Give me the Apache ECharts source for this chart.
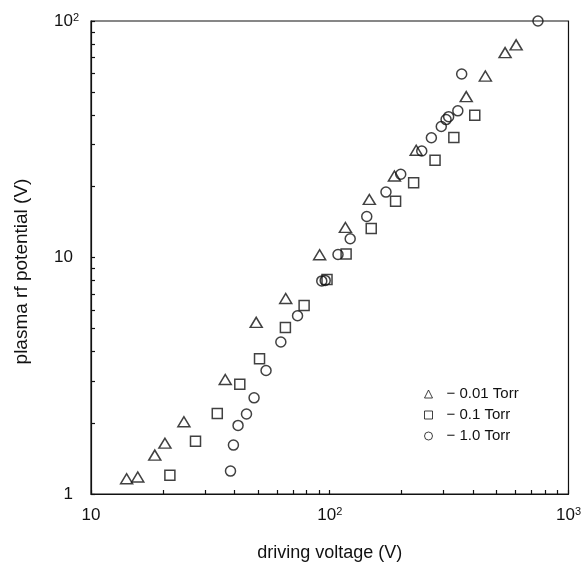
<!DOCTYPE html>
<html>
<head>
<meta charset="utf-8">
<script src="https://cdn.jsdelivr.net/npm/echarts@6/dist/echarts.min.js"></script>
<style>
  html, body { margin: 0; padding: 0; background: #fff; }
  #chart { width: 584px; height: 571px; }
</style>
</head>
<body>
<div id="chart"></div>
<script>
// [driving voltage (V), plasma rf potential (V)]
var torr001 = [
  [14.1, 1.16], [15.7, 1.18], [18.5, 1.46], [20.4, 1.64], [24.5, 2.02],
  [36.5, 3.05], [49.2, 5.32], [65.4, 6.71], [90.7, 10.27], [116.3, 13.4],
  [146.5, 17.6], [186.6, 22.1], [230.2, 28.4], [373.0, 47.9], [448.5, 58.5],
  [542.5, 73.5], [603.5, 79.3]
];
var torr01 = [
  [21.4, 1.20], [27.4, 1.67], [33.8, 2.19], [42.0, 2.91], [50.8, 3.73],
  [65.2, 5.06], [78.1, 6.26], [97.4, 8.07], [117.1, 10.34], [149.2, 13.25],
  [188.7, 17.3], [224.6, 20.7], [276.1, 25.8], [331.0, 32.2], [405.0, 39.9]
];
var torr10 = [
  [38.4, 1.25], [39.5, 1.61], [41.3, 1.95], [44.8, 2.18], [48.2, 2.55],
  [54.1, 3.33], [62.4, 4.39], [73.3, 5.67], [92.6, 7.96], [95.7, 8.0],
  [108.3, 10.3], [121.8, 12.0], [142.9, 14.9], [172.0, 18.9], [198.3, 22.5],
  [242.9, 28.2], [266.5, 32.1], [293.2, 35.8], [307.1, 38.3], [314.8, 39.4],
  [344.0, 41.7], [357.0, 59.7], [745.0, 100]
];
var seriesNames = ['\u2212 0.01 Torr', '\u2212 0.1 Torr', '\u2212 1.0 Torr'];

// tick positions (log decades with 2..9 subdivisions) and labelled values
var xTicks = [10, 20, 30, 40, 50, 60, 70, 80, 90, 100, 200, 300, 400, 500, 600, 700, 800, 900, 1000];
var xLabels = [10, 100, 1000];
var yTicks = [1, 2, 3, 4, 5, 6, 7, 8, 9, 10, 20, 30, 40, 50, 60, 70, 80, 90, 100];
var yLabels = [1, 10, 100];

var ink = '#111';
var font = '"Liberation Sans", Arial, sans-serif';

function powLabel(v, hideEmpty) {
  var e = Math.round(Math.log10(v));
  if (e >= 2) return '{n|10}{s|' + e + '}';
  var txt = e === 0 ? '1' : '10';
  // keep the same width as the superscripted labels on the y axis
  return hideEmpty ? '{n|' + txt + '}{h|2}' : '{n|' + txt + '}';
}

var labelRich = {
  n: { fontSize: 17, color: ink, fontFamily: font, lineHeight: 18 },
  s: { fontSize: 11, color: ink, fontFamily: font, lineHeight: 11, verticalAlign: 'top' },
  h: { fontSize: 11, color: 'rgba(0,0,0,0)', fontFamily: font, lineHeight: 11 }
};

var markerStyle = { color: 'rgba(0,0,0,0)', borderColor: ink, borderWidth: 1.5 };

var chart = echarts.init(document.getElementById('chart'));
chart.setOption({
  animation: false,
  backgroundColor: '#fff',
  grid: {
    left: 91, right: 13, top: 21, bottom: 77,
    show: true, borderColor: ink, borderWidth: 1.2
  },
  legend: {
    orient: 'vertical',
    left: 419, top: 381,
    itemWidth: 8, itemHeight: 8, itemGap: 5,
    data: seriesNames,
    itemStyle: { borderWidth: 1 },
    textStyle: { fontSize: 15, color: ink, fontFamily: font, lineHeight: 16, padding: [0, 0, 0, 9] }
  },
  xAxis: {
    type: 'log', logBase: 10, min: 10, max: 1000,
    name: 'driving voltage (V)', nameLocation: 'middle', nameGap: 50,
    nameTextStyle: { fontSize: 18, color: ink, fontFamily: font },
    axisLine: { lineStyle: { color: ink, width: 1.2 } },
    axisTick: { inside: true, length: 4, lineStyle: { color: ink, width: 1.2 }, customValues: xTicks },
    axisLabel: {
      margin: 12, customValues: xLabels, rich: labelRich,
      formatter: function (v) { return powLabel(v, false); }
    },
    splitLine: { show: false }
  },
  yAxis: {
    type: 'log', logBase: 10, min: 1, max: 100,
    name: 'plasma rf potential (V)', nameLocation: 'middle', nameGap: 60,
    nameTextStyle: { fontSize: 19, color: ink, fontFamily: font, padding: [0, 28, 0, 0] },
    axisLine: { lineStyle: { color: ink, width: 1.2 } },
    axisTick: { inside: true, length: 4, lineStyle: { color: ink, width: 1.2 }, customValues: yTicks },
    axisLabel: {
      margin: 12, customValues: yLabels, rich: labelRich,
      formatter: function (v) { return powLabel(v, true); }
    },
    splitLine: { show: false }
  },
  series: [
    { name: seriesNames[0], type: 'scatter', symbol: 'triangle', symbolSize: [12, 10], itemStyle: markerStyle, data: torr001 },
    { name: seriesNames[1], type: 'scatter', symbol: 'rect', symbolSize: 10, itemStyle: markerStyle, data: torr01 },
    { name: seriesNames[2], type: 'scatter', symbol: 'circle', symbolSize: 10, itemStyle: markerStyle, data: torr10 }
  ]
});
</script>
</body>
</html>
